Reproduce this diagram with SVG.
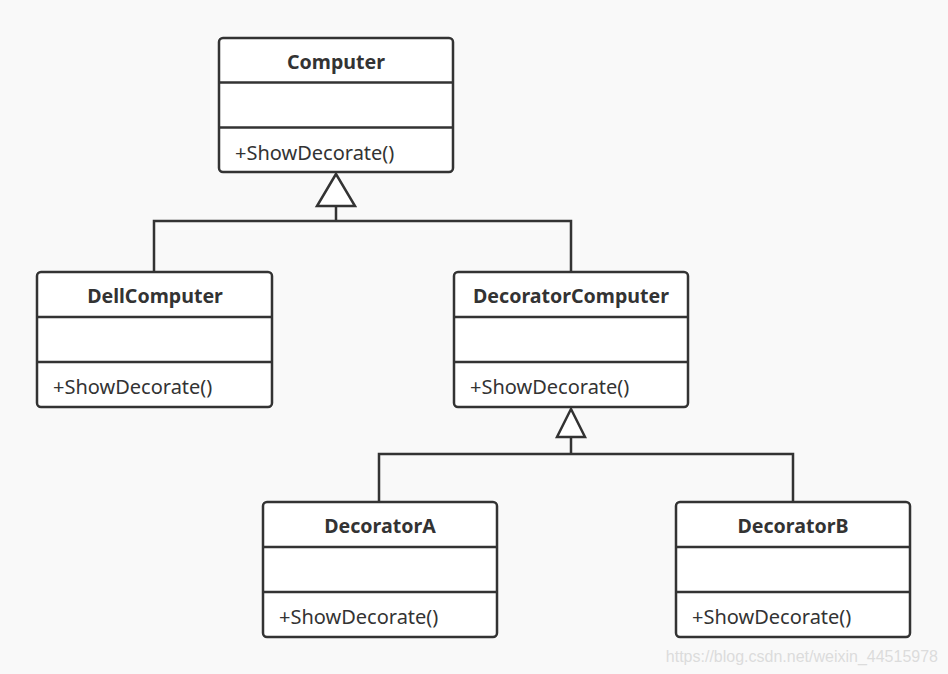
<svg xmlns="http://www.w3.org/2000/svg" width="948" height="674" viewBox="0 0 948 674">
<style>
.box{fill:#fff;stroke:#333;stroke-width:2.5}
.div{stroke:#333;stroke-width:2.5}
.title{font-family:"Noto Sans","Open Sans",sans-serif;font-weight:bold;font-size:19.6px;fill:#333;text-anchor:middle}
.mem{font-family:"Noto Sans","Open Sans",sans-serif;font-size:20px;fill:#333}
.conn{fill:none;stroke:#333;stroke-width:2.5}
.tri{fill:#fff;stroke:#333;stroke-width:2.5}
</style>
<rect width="948" height="674" fill="#f9f9f9"/>
<g id="connectors">
<polyline class="conn" points="336,206 336,221"/>
<polyline class="conn" points="154,271 154,221 571,221 571,271"/>
<polygon class="tri" points="336,174 317,206 355,206"/>
<polyline class="conn" points="571,437 571,454"/>
<polyline class="conn" points="379,501 379,454 793,454 793,501"/>
<polygon class="tri" points="571,409 557,437 585,437"/>
</g>
<g id="Computer">
<rect class="box" x="219" y="38" width="234" height="134" rx="4"/>
<line class="div" x1="219" y1="82.5" x2="453" y2="82.5"/>
<line class="div" x1="219" y1="127.5" x2="453" y2="127.5"/>
<text class="title" x="336" y="69">Computer</text>
<text class="mem" x="235" y="160">+ShowDecorate()</text>
</g>
<g id="DellComputer">
<rect class="box" x="37" y="272" width="235" height="135" rx="4"/>
<line class="div" x1="37" y1="317" x2="272" y2="317"/>
<line class="div" x1="37" y1="362" x2="272" y2="362"/>
<text class="title" x="155" y="303">DellComputer</text>
<text class="mem" x="53" y="394">+ShowDecorate()</text>
</g>
<g id="DecoratorComputer">
<rect class="box" x="454" y="272" width="234" height="135" rx="4"/>
<line class="div" x1="454" y1="317" x2="688" y2="317"/>
<line class="div" x1="454" y1="362" x2="688" y2="362"/>
<text class="title" x="571" y="303">DecoratorComputer</text>
<text class="mem" x="470" y="394">+ShowDecorate()</text>
</g>
<g id="DecoratorA">
<rect class="box" x="263" y="502" width="234" height="135" rx="4"/>
<line class="div" x1="263" y1="547" x2="497" y2="547"/>
<line class="div" x1="263" y1="592" x2="497" y2="592"/>
<text class="title" x="380" y="533">DecoratorA</text>
<text class="mem" x="279" y="624">+ShowDecorate()</text>
</g>
<g id="DecoratorB">
<rect class="box" x="676" y="502" width="234" height="135" rx="4"/>
<line class="div" x1="676" y1="547" x2="910" y2="547"/>
<line class="div" x1="676" y1="592" x2="910" y2="592"/>
<text class="title" x="793" y="533">DecoratorB</text>
<text class="mem" x="692" y="624">+ShowDecorate()</text>
</g>
<text x="938" y="662" font-family="'Liberation Sans',Arial,sans-serif" font-size="16" fill="#dcdcdc" text-anchor="end">https://blog.csdn.net/weixin_44515978</text>
</svg>
